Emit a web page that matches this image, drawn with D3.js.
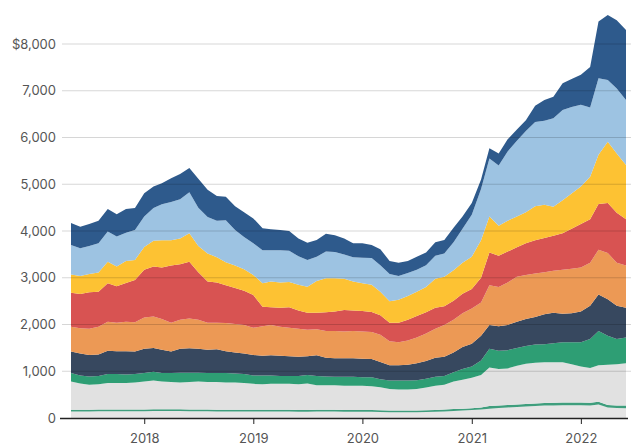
<!DOCTYPE html>
<html>
<head>
<meta charset="utf-8">
<script src="https://cdn.jsdelivr.net/npm/d3@7"></script>
<style>
  html, body { margin: 0; padding: 0; background: #fff; }
  svg { display: block; }
  text { font-family: Inter, "Open Sans", sans-serif; fill: #555; }
</style>
</head>
<body>
<svg id="chart" width="631" height="448"></svg>
<script>
// Months: May 2017 .. June 2022 (62 monthly points)
const startMonth = [2017, 4];
const monthCount = 62;

// Series values (bottom to top of stack)
const baseGray = [140,140,140,145,145,145,145,145,145,150,150,150,150,145,145,145,140,140,140,140,140,140,140,140,140,135,135,140,140,140,135,135,135,135,130,125,125,125,125,130,135,140,150,160,170,180,200,215,225,235,245,255,265,270,275,275,275,270,290,225,215,210];
const thinGreen = [35,35,35,35,35,35,35,35,35,35,35,35,35,35,35,35,35,35,35,35,35,35,35,35,35,35,35,35,35,35,35,35,35,35,35,35,35,35,35,35,35,40,40,40,40,45,55,55,55,55,55,55,55,55,55,55,55,55,55,55,55,55];
const gray = [605,565,535,540,570,570,570,580,600,615,595,585,575,590,600,590,595,585,585,575,555,545,555,555,555,550,570,525,525,525,520,520,520,510,495,460,450,450,460,485,520,530,590,620,650,695,825,780,780,830,860,870,870,865,860,820,770,745,785,860,880,905];
const green = [180,170,180,180,190,190,180,180,180,190,180,190,210,200,190,190,190,200,190,190,180,190,180,170,170,180,180,200,190,180,190,190,180,190,170,180,190,190,190,190,190,190,200,230,240,310,400,390,390,380,380,390,390,410,430,470,520,620,730,620,540,550];
const navy = [460,470,460,460,500,490,500,480,520,510,500,460,510,520,510,500,510,470,450,440,440,420,430,430,420,410,400,440,400,400,400,400,400,390,370,330,330,340,360,380,410,410,420,470,490,530,510,520,540,560,580,590,640,650,610,620,660,710,780,780,710,640];
const orange = [530,540,560,590,620,610,630,630,670,670,660,620,620,640,620,580,570,600,610,610,580,630,650,620,610,600,570,560,570,580,570,580,580,580,580,510,490,520,550,590,620,680,700,720,750,710,850,840,910,960,940,930,900,900,940,950,940,920,960,990,920,900];
const red = [730,730,780,750,820,780,830,900,1020,1070,1100,1220,1190,1210,1020,880,860,810,770,730,700,420,380,410,440,390,360,350,400,420,460,440,440,430,420,400,420,440,460,450,450,400,410,420,420,530,700,670,660,630,680,710,730,750,780,860,930,930,980,1070,1070,990];
const yellow = [390,390,390,410,460,420,470,430,490,550,580,540,550,610,560,600,540,490,480,460,430,500,550,540,540,550,560,680,730,710,670,620,590,580,500,460,490,510,520,540,620,630,650,660,690,800,770,640,660,660,660,730,710,620,710,750,800,910,1050,1310,1270,1160];
const lightBlue = [630,590,600,630,650,640,600,640,650,700,770,820,840,880,820,780,780,900,760,690,680,710,670,690,670,610,570,520,570,560,520,520,550,570,570,580,510,490,470,470,490,500,600,730,900,1100,1240,1290,1480,1620,1740,1800,1800,1890,1930,1850,1750,1480,1640,1320,1390,1390];
const darkBlue = [470,460,470,480,480,480,510,470,500,460,450,510,540,520,620,580,530,500,510,530,530,470,450,430,420,380,370,360,380,360,340,300,310,280,340,280,280,260,280,270,290,290,310,260,250,200,220,260,260,240,230,350,440,460,570,600,640,870,1210,1390,1460,1500];

const seriesNames = ["baseGray","thinGreen","gray","green","navy","orange","red","yellow","lightBlue","darkBlue"];
const seriesValues = [baseGray, thinGreen, gray, green, navy, orange, red, yellow, lightBlue, darkBlue];
const seriesColors = ["#e5e5e5","#3f9e7d","#e1e1e1","#2e9e74","#37485f","#ec9955","#d85352","#fdc233","#9dc3e2","#2e5a8c"];

const yTicks = [0,1000,2000,3000,4000,5000,6000,7000,8000];
const yTickLabels = ["0","1,000","2,000","3,000","4,000","5,000","6,000","7,000","$8,000"];
const xTickYears = [2018,2019,2020,2021,2022];

const months = d3.range(monthCount).map(i => new Date(startMonth[0], startMonth[1] + i, 1));
const table = months.map((d, i) => {
  const row = { date: d };
  seriesNames.forEach((n, k) => row[n] = seriesValues[k][i]);
  return row;
});

const svg = d3.select("#chart");
const x = d3.scaleTime().domain([months[0], months[months.length - 1]]).range([71, 626]);
const y = d3.scaleLinear().domain([0, 8000]).range([418, 44]);

const stack = d3.stack().keys(seriesNames);
const layers = stack(table);

const area = d3.area()
  .x(d => x(d.data.date))
  .y0(d => y(d[0]))
  .y1(d => y(d[1]));

svg.append("g").selectAll("path")
  .data(layers)
  .join("path")
  .attr("d", area)
  .attr("fill", (d, i) => seriesColors[i]);

// gridlines on top
svg.append("g").selectAll("line")
  .data(yTicks.slice(1))
  .join("line")
  .attr("x1", 62).attr("x2", 631)
  .attr("y1", d => y(d)).attr("y2", d => y(d))
  .attr("stroke", "rgba(0,0,0,0.16)")
  .attr("stroke-width", 1);

// y labels
svg.append("g").selectAll("text")
  .data(yTicks)
  .join("text")
  .attr("x", 56)
  .attr("y", d => y(d))
  .attr("dy", "0.35em")
  .attr("text-anchor", "end")
  .attr("font-size", 13)
  .text((d, i) => yTickLabels[i]);

// x axis
const xAxis = d3.axisBottom(x)
  .tickValues(xTickYears.map(yr => new Date(yr, 0, 1)))
  .tickFormat(d3.timeFormat("%Y"))
  .tickSize(6)
  .tickSizeOuter(0);
const gx = svg.append("g").attr("transform", `translate(0,${y(0)})`).call(xAxis);
gx.select(".domain").attr("d", `M60,0.5H628`).attr("stroke", "#222").attr("stroke-width", 1.5);
gx.selectAll(".tick line").attr("stroke", "#222");
gx.selectAll(".tick text").attr("font-size", 13).attr("fill", "#555").attr("dy", "1.2em")
  .attr("font-family", "Inter, 'Open Sans', sans-serif");
</script>
</body>
</html>
